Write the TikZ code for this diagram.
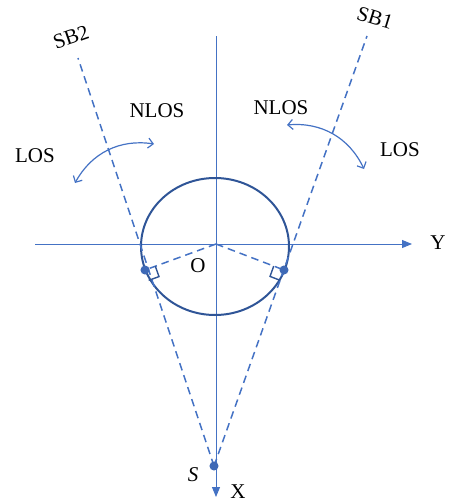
\documentclass[tikz,border=0pt]{standalone}
\usepackage{fontspec}
\setmainfont{Liberation Serif}
\usetikzlibrary{arrows.meta,calc}
\definecolor{axisblue}{RGB}{68,114,196}
\definecolor{ringblue}{RGB}{47,85,151}
\tikzset{
	lbl/.style={font=\fontsize{10.5}{12}\selectfont, inner sep=1pt},
	axisline/.style={axisblue, line width=0.5pt, -{Triangle[length=5pt,width=4pt]}},
	sbline/.style={axisblue, line width=0.75pt, dash pattern=on 3.8pt off 2.5pt},
	swing/.style={axisblue, line width=0.6pt, {Straight Barb[length=2.5pt,width=5pt]}-{Straight Barb[length=2.5pt,width=5pt]}},
	dot/.style={circle, fill=axisblue!70!ringblue, inner sep=1.6pt},
}

\begin{document}
\begin{tikzpicture}[x=0.5pt,y=-0.5pt]
\useasboundingbox (0,0) rectangle (449,503);
			\coordinate (O) at (216,244);
			\coordinate (S) at (214,466);
			\coordinate (T1) at (284,270);
			\coordinate (T2) at (145,270);
			\coordinate (SB1end) at (367,36);
			\coordinate (SB2end) at (78,58);
			\coordinate (Ystart) at (35,244);
			\coordinate (Yend) at (412,244);
			\coordinate (Xstart) at (216,36);
			\coordinate (Xend) at (216,497);
			
\draw[axisline] (Ystart) -- (Yend);
			\draw[axisline] (Xstart) -- (Xend);
			\draw[ringblue, line width=1pt] (215,246.5) ellipse [x radius=74, y radius=68.5];
			
\draw[sbline] (S) -- (SB1end);
			\draw[sbline] (S) -- (SB2end);
			\draw[sbline] (O) -- (T1);
			\draw[sbline] (O) -- (T2);
			
\foreach \t in {T1,T2} {
				\coordinate (\t a) at ($(\t)!5.5pt!(O)$);
				\coordinate (\t b) at ($(\t)!5.5pt!(S)$);
				\draw[ringblue, line width=0.7pt] (\t a) -- ($(\t a)+(\t b)-(\t)$) -- (\t b);
			}
			\node[dot] (t1dot) at (T1) {};
			\node[dot] (t2dot) at (T2) {};
			\node[dot] (sdot) at (S) {};
			
			\node[lbl, rotate=-17] (sb1) at (375,18) {SB1};
			\node[lbl, rotate=19] (sb2) at (71,37) {SB2};
			\node[lbl] (nlosL) at (157,111) {NLOS};
			\node[lbl] (losL) at (35,156) {LOS};
			\node[lbl] (nlosR) at (281,108) {NLOS};
			\node[lbl] (losR) at (400,150) {LOS};
			\node[lbl] (olbl) at (198,266) {O};
			\node[lbl] (slbl) at (193,475) {\textit{S}};
			\node[lbl] (xlbl) at (238,492) {X};
			\node[lbl] (ylbl) at (438,243) {Y};
			
\coordinate (swL1) at (75,183);
			\coordinate (swL2) at (154,144);
			\coordinate (swR1) at (287,125);
			\coordinate (swR2) at (364,169);
			\draw[swing] (swL1) to[bend left=35] (swL2);
			\draw[swing] (swR1) to[bend left=35] (swR2);
		\end{tikzpicture}
\end{document}
